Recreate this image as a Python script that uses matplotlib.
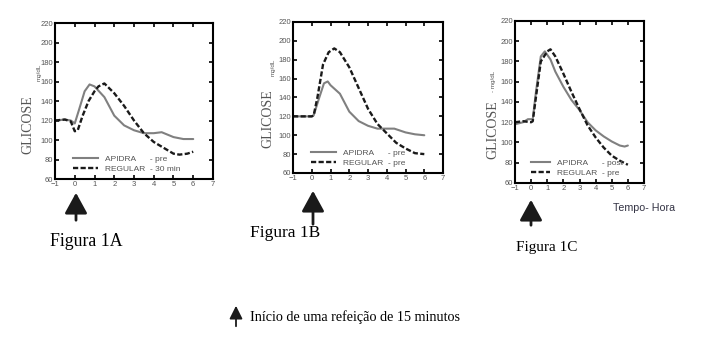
import matplotlib
matplotlib.use("Agg")
import matplotlib.pyplot as plt
from matplotlib.lines import Line2D
from matplotlib.patches import FancyArrowPatch

# Time (hours) and glucose (mg/dL) curves
t_apidra_a = [-1, -0.5, -0.2, 0, 0.2, 0.5, 0.75, 1.0, 1.5, 2.0, 2.5, 3.0, 3.5, 4.0, 4.4, 5.0, 5.5, 6.0]
g_apidra_a = [120, 121, 120, 117, 130, 150, 157, 155, 144, 125, 115, 110, 107, 107, 108, 103, 101, 101]
t_regular_a = [-1, -0.5, -0.2, 0, 0.15, 0.4, 0.7, 1.0, 1.2, 1.5, 2.0, 2.5, 3.0, 3.5, 4.0, 4.5, 5.0, 5.3, 5.7, 6.0]
g_regular_a = [120, 121, 119, 109, 110, 125, 140, 150, 155, 158, 148, 135, 120, 107, 98, 92, 86, 85, 86, 88]

t_apidra_b = [-1, -0.5, 0, 0.1, 0.4, 0.65, 0.85, 1.0, 1.5, 2.0, 2.5, 3.0, 3.5, 4.0, 4.4, 5.0, 5.5, 6.0]
g_apidra_b = [120, 120, 120, 121, 140, 155, 157, 153, 144, 125, 115, 110, 107, 107, 107, 103, 101, 100]
t_regular_b = [-1, -0.5, 0, 0.1, 0.3, 0.6, 0.9, 1.2, 1.5, 2.0, 2.5, 3.0, 3.5, 4.0, 4.5, 5.0, 5.5, 6.0]
g_regular_b = [120, 120, 120, 121, 140, 175, 188, 192, 188, 172, 150, 128, 112, 102, 92, 86, 81, 80]

t_apidra_c = [-1, -0.5, -0.2, 0.1, 0.3, 0.6, 0.85, 1.2, 1.5, 2.0, 2.5, 3.0, 3.5, 4.0, 4.5, 5.0, 5.5, 5.8, 6.0]
g_apidra_c = [118, 120, 123, 123, 150, 185, 190, 182, 170, 155, 142, 132, 120, 112, 106, 101, 97, 96, 97]
t_regular_c = [-1, -0.5, 0, 0.1, 0.3, 0.6, 1.0, 1.2, 1.5, 2.0, 2.5, 3.0, 3.5, 4.0, 4.5, 5.0, 5.5, 6.0]
g_regular_c = [120, 121, 120, 121, 145, 180, 190, 192, 185, 168, 150, 133, 117, 105, 95, 87, 82, 78]

panels = [
    dict(pos=[0.0776, 0.4735, 0.2228, 0.4588], ta=t_apidra_a, ga=g_apidra_a,
         tr=t_regular_a, gr=g_regular_a, leg=("- pre", "- 30 min"),
         unit="mg/dL", lab_y=0.35, unit_xy=(-0.10, 0.63), hl=3.0),
    dict(pos=[0.4133, 0.4912, 0.2116, 0.4441], ta=t_apidra_b, ga=g_apidra_b,
         tr=t_regular_b, gr=g_regular_b, leg=("- pre", "- pre"),
         unit="mg/dL", lab_y=0.36, unit_xy=(-0.13, 0.64), hl=3.0),
    dict(pos=[0.7264, 0.4618, 0.1819, 0.4765], ta=t_apidra_c, ga=g_apidra_c,
         tr=t_regular_c, gr=g_regular_c, leg=("- post", "- pre"),
         unit="- mg/dL", lab_y=0.33, unit_xy=(-0.165, 0.56), hl=2.3),
]

x_ticks = list(range(-1, 8))
y_ticks = list(range(60, 221, 20))

SERIF = ["Liberation Serif", "DejaVu Serif"]
SANS = ["Liberation Sans", "DejaVu Sans"]
GREY = "#555555"
DASH = (0, (2.2, 1.0))

fig = plt.figure(figsize=(7.09, 3.40), dpi=100)

for p in panels:
    ax = fig.add_axes(p["pos"])
    ax.plot(p["ta"], p["ga"], color="#808080", lw=1.5, solid_capstyle="round")
    ax.plot(p["tr"], p["gr"], color="#1a1a1a", lw=1.7, ls=DASH)
    ax.set_xlim(-1, 7)
    ax.set_ylim(60, 220)
    ax.set_xticks(x_ticks)
    ax.set_yticks(y_ticks)
    ax.tick_params(direction="in", length=3, width=1.2, top=True, right=True,
                   labelsize=5.5, labelcolor=GREY, pad=1.5)
    for lab in ax.get_xticklabels() + ax.get_yticklabels():
        lab.set_family(SANS)
    for s in ax.spines.values():
        s.set_linewidth(1.5)
    handles = [Line2D([], [], color="#808080", lw=1.5),
               Line2D([], [], color="#1a1a1a", lw=1.7, ls=DASH)]
    labels = ["APIDRA      " + p["leg"][0], "REGULAR  " + p["leg"][1]]
    ax.legend(handles, labels, loc="lower left", bbox_to_anchor=(0.08, 0.0),
              frameon=False, handlelength=p["hl"], handletextpad=0.8,
              labelspacing=0.25, prop=dict(family=SANS, size=6),
              labelcolor=GREY, borderaxespad=0.3)
    ax.text(-0.17, p["lab_y"], "GLICOSE", transform=ax.transAxes, rotation=90,
            ha="center", va="center", family=SERIF, fontsize=10, color=GREY)
    ux, uy = p["unit_xy"]
    ax.text(ux, uy, p["unit"], transform=ax.transAxes, rotation=90,
            ha="center", va="bottom", family=SANS, fontsize=4.5, color=GREY)

W, H = 709, 340


def fx(px):
    return px / W


def fy(py):
    return 1 - py / H


# Meal-start arrows under each panel
for x0, y_top, y_bot in [(76, 190, 223), (313, 188, 227), (531, 197, 228)]:
    fig.patches.append(FancyArrowPatch(
        (fx(x0), fy(y_bot)), (fx(x0), fy(y_top)), transform=fig.transFigure,
        arrowstyle="-|>,head_length=4.2,head_width=2.3", lw=2, color="#1a1a1a",
        mutation_scale=3))

fig.text(fx(50), fy(241), "Figura 1A", family=SERIF, fontsize=12.8, va="center", ha="left")
fig.text(fx(250), fy(233), "Figura 1B", family=SERIF, fontsize=12.5, va="center", ha="left")
fig.text(fx(516), fy(248), "Figura 1C", family=SERIF, fontsize=11, va="center", ha="left")
fig.text(fx(613), fy(208), "Tempo- Hora", family=SANS, fontsize=7.7, color="#333344",
         va="center", ha="left")

fig.patches.append(FancyArrowPatch(
    (fx(236), fy(329)), (fx(236), fy(303)), transform=fig.transFigure,
    arrowstyle="-|>,head_length=2.6,head_width=1.3", lw=1.3, color="#1a1a1a",
    mutation_scale=3))
fig.text(fx(250), fy(317), "Início de uma refeição de 15 minutos", family=SERIF,
         fontsize=10.2, va="center", ha="left")

fig.savefig("out.png", dpi=100)
